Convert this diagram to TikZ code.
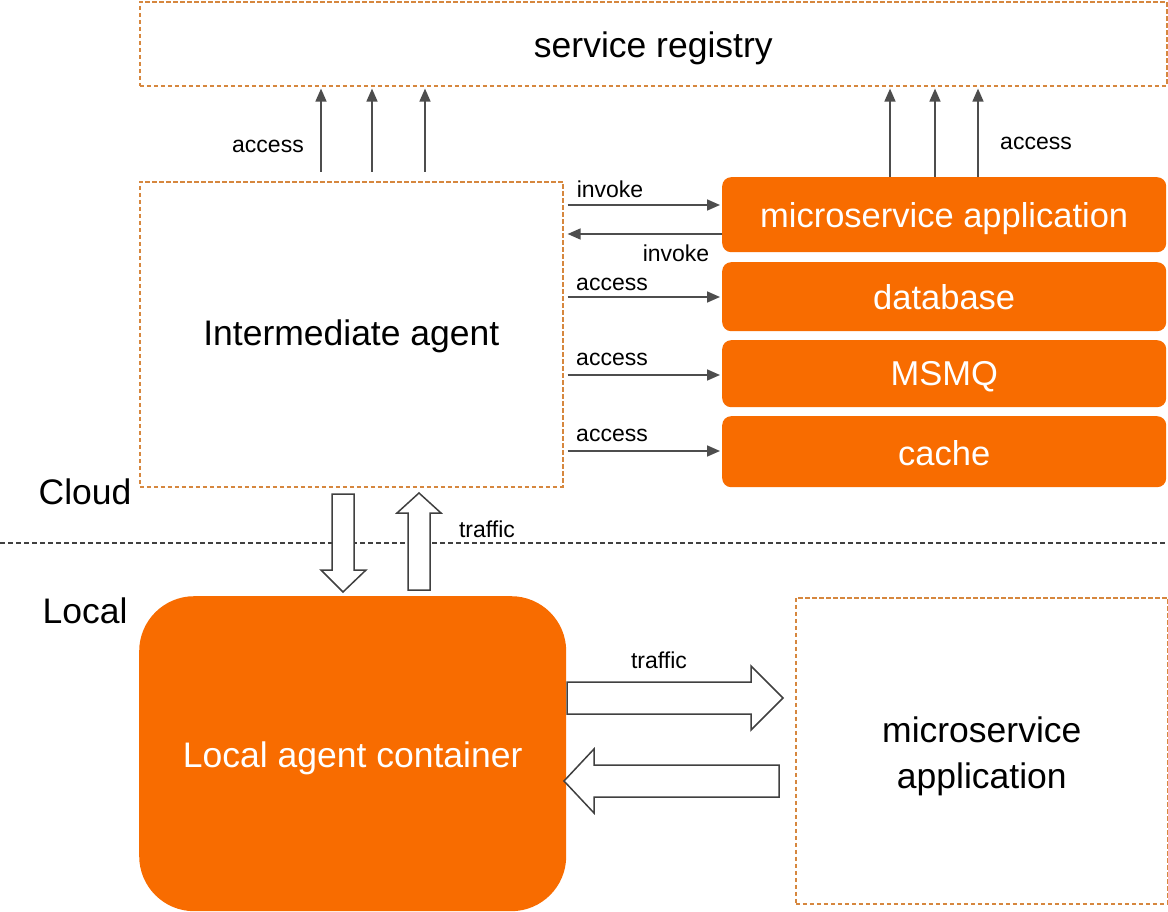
\documentclass[tikz,border=0pt]{standalone}
\usepackage{fontspec}
\setmainfont{Liberation Sans}
\usetikzlibrary{arrows.meta}
\definecolor{org}{RGB}{248,108,0}
\definecolor{dashc}{RGB}{214,135,62}
\definecolor{arrc}{RGB}{77,77,77}
\newcommand{\dn}[2][3pt]{\raisebox{-#1}[\height][\depth]{#2}}
\begin{document}
\begin{tikzpicture}[x=1pt,y=-1pt,
  dbox/.style={draw=dashc, line width=1.6pt, dash pattern=on 4.5pt off 2.5pt, inner sep=0pt, anchor=north west},
  obox/.style={fill=org, rounded corners=9pt, text=white, inner sep=0pt, anchor=north west, font=\fontsize{34.5}{40}\selectfont},
  lbl/.style={font=\fontsize{23}{27}\selectfont, inner sep=0pt},
  arr/.style={draw=arrc, line width=1.6pt, -{Triangle[length=13pt,width=11pt]}},
  barr/.style={draw=black!75, line width=1.5pt, fill=white, line join=miter},
  big/.style={font=\fontsize{35.5}{45}\selectfont}]
\useasboundingbox (0,0) rectangle (1168,912);
\fill[white] (0,0) rectangle (1168,912);

% boxes
\node[dbox, big, minimum width=1027pt, minimum height=84pt] (reg) at (139,1) {\dn[5pt]{service registry}};
\node[dbox, big, minimum width=423pt, minimum height=305pt] (ia) at (139,181) {\dn[2pt]{Intermediate agent}};
\node[obox, minimum width=444pt, minimum height=75pt] (msa) at (722,177) {\dn[4pt]{microservice application}};
\node[obox, minimum width=444pt, minimum height=69pt] (db) at (722,262) {database};
\node[obox, minimum width=444pt, minimum height=67pt] (mq) at (722,340) {\dn[3pt]{MSMQ}};
\node[obox, minimum width=444pt, minimum height=71pt] (cache) at (722,416) {\dn[1pt]{cache}};
\node[fill=org, rounded corners=55pt, text=white, inner sep=0pt, anchor=north west, big,
      minimum width=427pt, minimum height=315pt] (loc) at (139,596) {\dn[5pt]{Local agent container}};
\node[dbox, big, align=center, minimum width=372pt, minimum height=306pt] (app) at (795,597) {\dn[6pt]{\begin{tabular}{@{}c@{}}microservice\\[1pt]application\end{tabular}}};

% side labels
\node[big, inner sep=0pt] (cloud) at (85,492) {Cloud};
\node[big, inner sep=0pt] (local) at (85,611) {Local};

% cloud / local divider
\coordinate (dl) at (0,543);
\coordinate (dr) at (1168,543);
\draw[black!75, line width=1.3pt, dash pattern=on 5pt off 3pt] (dl) -- (dr);

% up arrows to registry
\foreach \x [count=\i] in {321,372,425} {
  \coordinate (ul\i) at (\x,0);
  \draw[arr, shorten <=9pt, shorten >=2pt] (ia.north -| ul\i) -- (reg.south -| ul\i);
}
\foreach \x [count=\i] in {890,935,978} {
  \coordinate (ur\i) at (\x,0);
  \draw[arr, shorten >=2pt] (msa.north -| ur\i) -- (reg.south -| ur\i);
}
\node[lbl] (accL) at (268,146) {access};
\node[lbl] (accR) at (1036,143) {access};

% horizontal arrows
\coordinate (h1) at (0,205);
\coordinate (h2) at (0,234);
\coordinate (h3) at (0,297);
\coordinate (h4) at (0,375);
\coordinate (h5) at (0,451);
\draw[arr, shorten <=4pt, shorten >=2pt] (ia.east |- h1) -- (msa.west |- h1);
\draw[arr, shorten <=0pt, shorten >=4pt] (msa.west |- h2) -- (ia.east |- h2);
\draw[arr, shorten <=4pt, shorten >=2pt] (ia.east |- h3) -- (db.west |- h3);
\draw[arr, shorten <=4pt, shorten >=2pt] (ia.east |- h4) -- (mq.west |- h4);
\draw[arr, shorten <=4pt, shorten >=2pt] (ia.east |- h5) -- (cache.west |- h5);
\node[lbl] (inv1) at (610,189) {invoke};
\node[lbl] (inv2) at (676,253) {invoke};
\node[lbl] (acc1) at (612,284) {access};
\node[lbl] (acc2) at (612,359) {access};
\node[lbl] (acc3) at (612,435) {access};

% block arrows (traffic)
\draw[barr] (332,494) -- (354,494) -- (354,570) -- (366,570) -- (343,592) -- (321,570) -- (332,570) -- cycle;
\draw[barr] (408,590) -- (430,590) -- (430,513) -- (441,513) -- (419,493) -- (397,513) -- (408,513) -- cycle;
\node[lbl] (tr1) at (487,529) {traffic};
\draw[barr] (567,682) -- (751,682) -- (751,666) -- (783,698) -- (751,730) -- (751,714) -- (567,714) -- cycle;
\draw[barr] (779,765) -- (594,765) -- (594,749) -- (564,781) -- (594,813) -- (594,797) -- (779,797) -- cycle;
\node[lbl] (tr2) at (659,660) {traffic};
\end{tikzpicture}
\end{document}
